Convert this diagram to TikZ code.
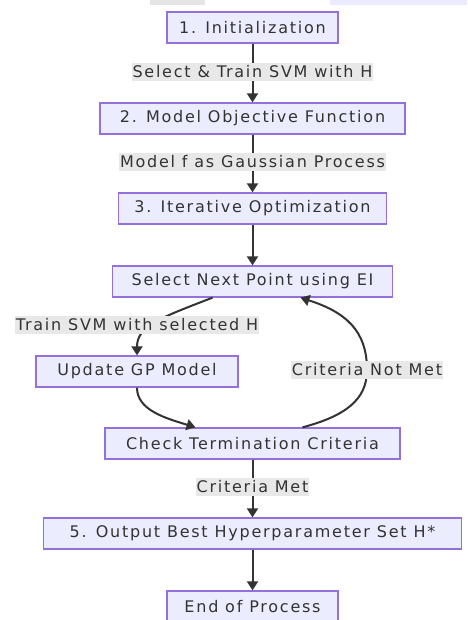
\documentclass[tikz,border=0pt]{standalone}
\usepackage{fontspec}
\setmainfont[LetterSpace=11]{DejaVu Sans}
\usetikzlibrary{arrows.meta,calc}
\definecolor{boxfill}{HTML}{ECECFF}
\definecolor{boxline}{HTML}{9370DB}
\definecolor{ink}{HTML}{333333}
\definecolor{lblbg}{HTML}{E8E8E8}
\begin{document}
\begin{tikzpicture}[x=1pt,y=-1pt,
  box/.style={draw=boxline,fill=boxfill,line width=1.3pt,text=ink,font=\fontsize{16}{18}\selectfont,minimum height=31pt,inner xsep=0pt},
  lbl/.style={fill=lblbg,text=ink,font=\fontsize{16}{18}\selectfont,inner xsep=1pt,inner ysep=0pt,minimum height=18pt},
  conn/.style={draw=ink,line width=2pt,-{Triangle[width=11pt,length=9pt]}}]
\useasboundingbox (0,0) rectangle (467,620);
\fill[black!10] (150,0) rectangle (205,5);
\fill[blue!8] (330,0) rectangle (467,5);
\node[box,minimum width=171pt] (init) at (252.5,27.5) {1. Initialization};
\node[box,minimum width=305pt] (obj) at (252.5,118.5) {2. Model Objective Function};
\node[box,minimum width=268pt] (iter) at (252.5,208.5) {3. Iterative Optimization};
\node[box,minimum width=280pt] (sel) at (252.5,281.5) {Select Next Point using EI};
\node[box,minimum width=202pt] (upd) at (137,371.5) {Update GP Model};
\node[box,minimum width=295pt] (chk) at (252.5,443.5) {Check Termination Criteria};
\node[box,minimum width=418pt] (out) at (252.5,533.5) {5. Output Best Hyperparameter Set H*};
\node[box,minimum width=171pt] (end) at (252.5,606.5) {End of Process};
\coordinate (cnm) at (367,370);
\draw[conn] (init) -- (obj);
\draw[conn] (obj) -- (iter);
\draw[conn] (iter) -- (sel);
\draw[conn] ($(sel.south)+(-40,0)$) .. controls (160,318) and (137,326) .. (upd.north);
\draw[conn] (upd.south) .. controls (137,410) and (165,418) .. ($(chk.north)+(-57,0)$);
\draw[draw=ink,line width=2pt] ($(chk.north)+(50,0)$) .. controls (345,416) and (367,400) .. (cnm);
\draw[conn] (cnm) .. controls (367,330) and (345,312) .. ($(sel.south)+(48,0)$);
\draw[conn] (chk) -- (out);
\draw[conn] (out) -- (end);
\node[lbl] (l1) at (252.5,72) {Select \& Train SVM with H};
\node[lbl] (l2) at (252.5,162) {Model f as Gaussian Process};
\node[lbl] (l3) at (137,325) {Train SVM with selected H};
\node[lbl] (l4) at (cnm) {Criteria Not Met};
\node[lbl] (l5) at (252.5,487) {Criteria Met};
\end{tikzpicture}
\end{document}
